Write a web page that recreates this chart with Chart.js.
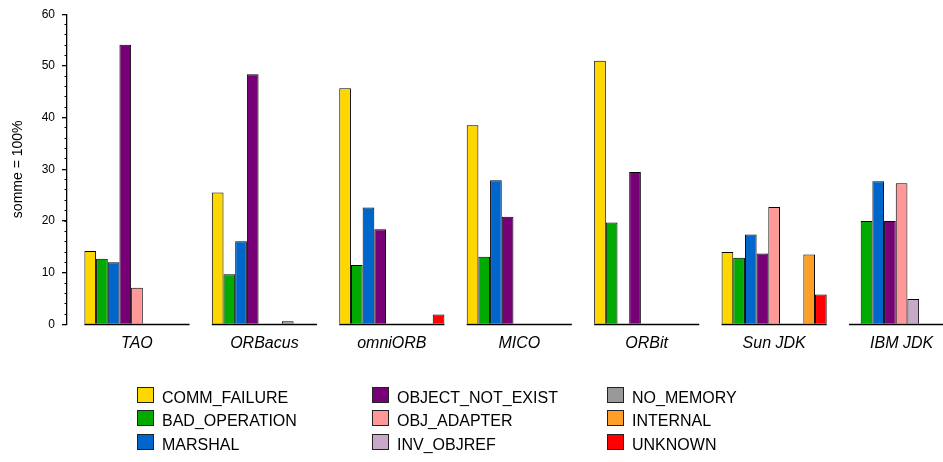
<!DOCTYPE html>
<html>
<head>
<meta charset="utf-8">
<script src="https://cdn.jsdelivr.net/npm/chart.js@4/dist/chart.umd.min.js"></script>
<style>
  html, body { margin: 0; padding: 0; background: #fff; overflow: hidden; }
  #wrap { position: relative; width: 943px; height: 462px; font-family: 'Liberation Sans', Arial, sans-serif; }
  #legende {
    position: absolute; left: 137px; top: 387px;
    display: grid; grid-template-columns: repeat(3, 235px); grid-template-rows: repeat(3, 23.3px);
    grid-auto-flow: column; font-size: 16px; color: #000;
  }
  .item { display: flex; align-items: flex-start; }
  .boite { width: 17px; height: 16px; box-sizing: border-box; border: 1px solid #222; margin-right: 8px; }
  .item span { line-height: 16px; margin-top: 3px; white-space: nowrap; }
</style>
</head>
<body>
<div id="wrap">
  <canvas id="graphique"></canvas>
  <div id="legende"></div>
</div>
<script>
// categories (ORB) et valeurs en %
const categories = ['TAO', 'ORBacus', 'omniORB', 'MICO', 'ORBit', 'Sun JDK', 'IBM JDK'];
const commFailure    = [14.2, 25.5, 45.7, 38.5, 51.0, 14.0, null];
const badOperation   = [12.7,  9.7, 11.5, 13.1, 19.7, 12.9, 20.0];
const marshal        = [12.0, 16.1, 22.6, 27.9, null, 17.4, 27.7];
const objectNotExist = [54.1, 48.4, 18.4, 20.8, 29.5, 13.7, 20.0];
const objAdapter     = [ 7.1, null, null, null, null, 22.7, 27.3];
const invObjref      = [null, null, null, null, null, null,  4.9];
const noMemory       = [null,  0.6, null, null, null, null, null];
const internal       = [null, null, null, null, null, 13.5, null];
const unknown        = [null, null,  1.9, null, null,  5.8, null];
const yTicks = [0, 10, 20, 30, 40, 50, 60];

const series = [
  { label: 'COMM_FAILURE',     data: commFailure,    couleur: '#FFD700' },
  { label: 'BAD_OPERATION',    data: badOperation,   couleur: '#00AA00' },
  { label: 'MARSHAL',          data: marshal,        couleur: '#0066CC' },
  { label: 'OBJECT_NOT_EXIST', data: objectNotExist, couleur: '#770077' },
  { label: 'OBJ_ADAPTER',      data: objAdapter,     couleur: '#FF9999' },
  { label: 'INV_OBJREF',       data: invObjref,      couleur: '#C8AAC8' },
  { label: 'NO_MEMORY',        data: noMemory,       couleur: '#999999' },
  { label: 'INTERNAL',         data: internal,       couleur: '#FF9F28' },
  { label: 'UNKNOWN',          data: unknown,        couleur: '#FF0000' }
];

const CAT_PCT = 0.825;
const X_MIN = -0.549;
const X_MAX = 6.325;

// axe de base séparé sous chaque groupe
const lignesDeBase = {
  id: 'lignesDeBase',
  afterDatasetsDraw(chart) {
    const { ctx, chartArea, scales: { x, y } } = chart;
    const demi = (x.getPixelForValue(1) - x.getPixelForValue(0)) * CAT_PCT / 2;
    const y0 = y.getPixelForValue(0);
    ctx.save();
    ctx.beginPath();
    ctx.rect(chartArea.left, 0, chartArea.right - chartArea.left, chart.height);
    ctx.clip();
    ctx.strokeStyle = '#000';
    ctx.lineWidth = 1.5;
    categories.forEach((c, i) => {
      const cx = x.getPixelForValue(i);
      ctx.beginPath();
      ctx.moveTo(cx - demi, y0);
      ctx.lineTo(cx + demi, y0);
      ctx.stroke();
    });
    ctx.restore();
  }
};

const ctx = document.getElementById('graphique').getContext('2d');
new Chart(ctx, {
  type: 'bar',
  data: {
    datasets: series.map(s => ({
      label: s.label,
      data: s.data.map((v, i) => ({ x: i, y: v })),
      backgroundColor: s.couleur,
      borderColor: '#000',
      borderWidth: 1,
      categoryPercentage: CAT_PCT,
      barPercentage: 1
    }))
  },
  options: {
    responsive: true,
    maintainAspectRatio: false,
    animation: false,
    layout: { padding: { top: 12, left: 0, right: 0, bottom: 0 } },
    plugins: { legend: { display: false }, tooltip: { enabled: false } },
    scales: {
      x: {
        type: 'linear',
        offset: false,
        min: X_MIN,
        max: X_MAX,
        grid: { display: false, offset: false },
        border: { display: false },
        afterFit: (s) => { s.height = 137.6; },
        ticks: {
          stepSize: 1,
          includeBounds: false,
          autoSkip: false,
          maxRotation: 0,
          padding: 2,
          color: '#000',
          font: { family: 'Liberation Sans', size: 16, style: 'italic' },
          callback: (v) => Number.isInteger(v) ? categories[v] : ''
        }
      },
      y: {
        min: 0,
        max: 60,
        afterFit: (s) => { s.width = 67; },
        afterBuildTicks: (s) => { s.ticks = yTicks.map(v => ({ value: v })); },
        grid: { drawOnChartArea: false, drawTicks: true, tickLength: 5, color: '#000', lineWidth: 1.3 },
        border: { display: true, color: '#000', width: 1.3 },
        ticks: { padding: 7, color: '#000', font: { family: 'Liberation Sans', size: 12 } },
        title: {
          display: true,
          text: 'somme = 100%',
          color: '#000',
          padding: { top: 10, bottom: 0 },
          font: { family: 'Liberation Sans', size: 14 }
        }
      },
      yMineur: {
        position: { x: X_MIN },
        min: 0,
        max: 60,
        afterFit: (s) => { s.width = 0; },
        grid: { drawOnChartArea: false, drawTicks: true, tickLength: 2.5, color: '#000', lineWidth: 1 },
        border: { display: false },
        ticks: { display: false, stepSize: 2 }
      }
    }
  },
  plugins: [lignesDeBase]
});

// légende en trois colonnes
const legende = document.getElementById('legende');
series.forEach(s => {
  const item = document.createElement('div');
  item.className = 'item';
  item.innerHTML = '<div class="boite" style="background:' + s.couleur + '"></div><span>' + s.label + '</span>';
  legende.appendChild(item);
});
</script>
</body>
</html>
